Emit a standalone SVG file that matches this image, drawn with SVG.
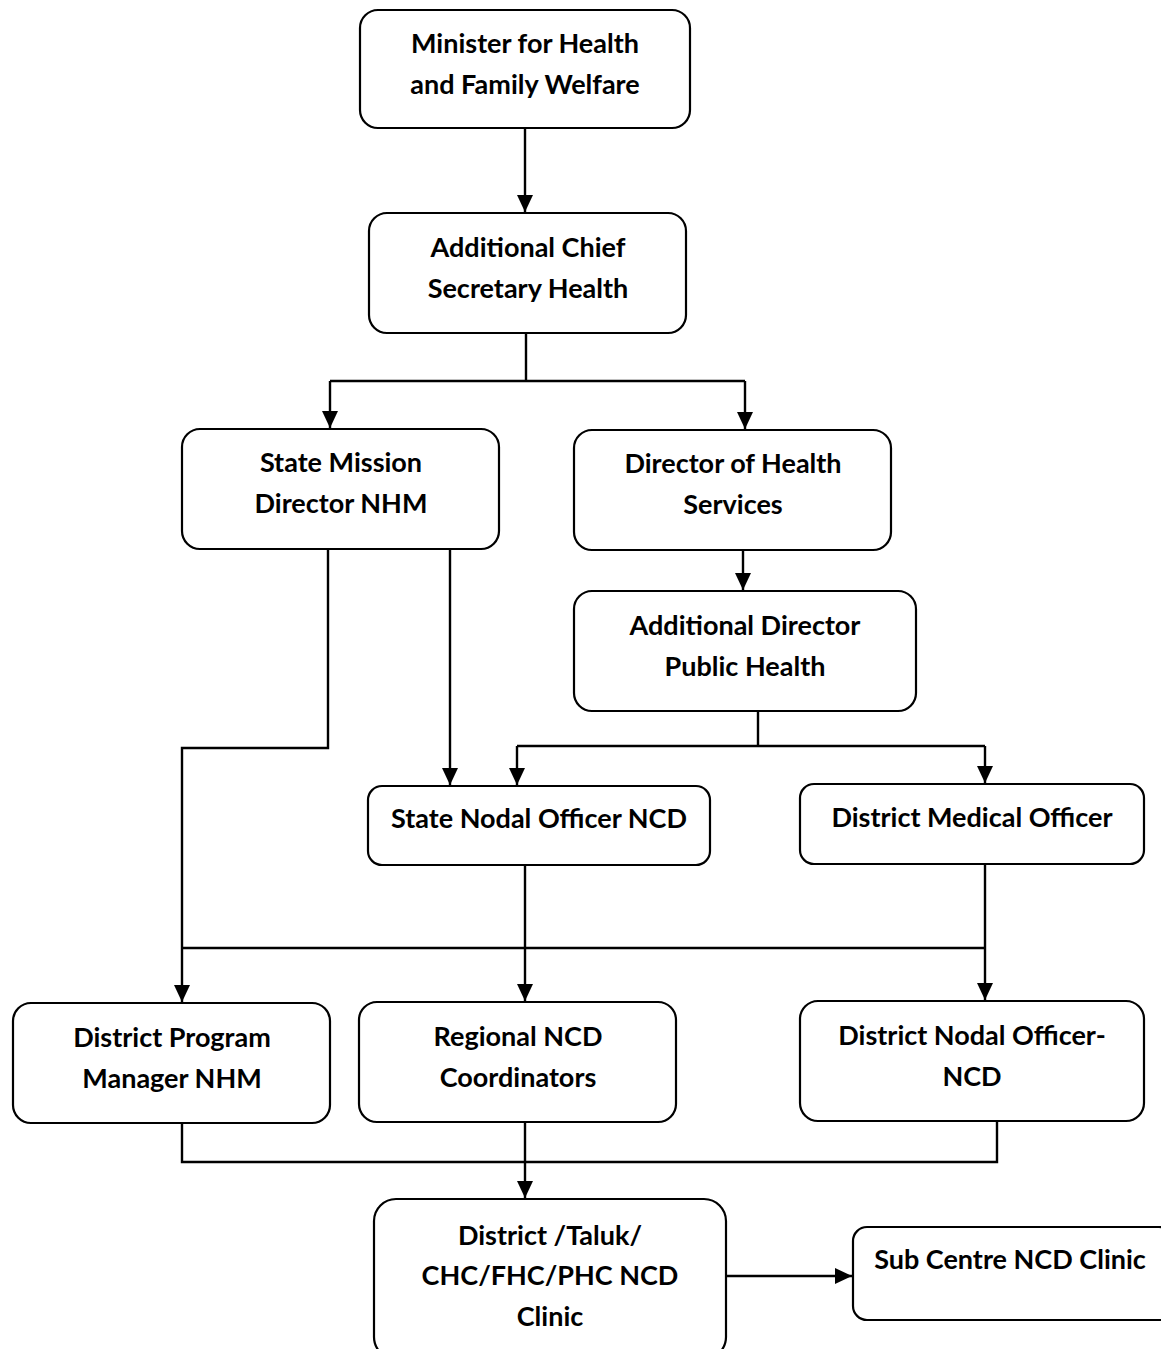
<svg xmlns="http://www.w3.org/2000/svg" width="1161" height="1349" viewBox="0 0 1161 1349">
<defs>
<marker id="arr" markerUnits="userSpaceOnUse" markerWidth="18" markerHeight="18" refX="17" refY="8" orient="auto">
<path d="M0,0 L17,8 L0,16 Z" fill="#000"/>
</marker>
<style>
.box{fill:#fff;stroke:#000;stroke-width:2.2}
.t{font-family:Lato,"Open Sans","Liberation Sans",sans-serif;font-size:27px;font-weight:bold;fill:#000;text-anchor:middle}
.c{fill:none;stroke:#000;stroke-width:2.4}
</style>
</defs>
<rect width="1161" height="1349" fill="#fff"/>
<g id="connectors">
<path class="c" d="M525,128 V212" marker-end="url(#arr)"/>
<path class="c" d="M526,333 V381 M330,381 H745"/>
<path class="c" d="M330,381 V428" marker-end="url(#arr)"/>
<path class="c" d="M745,381 V429" marker-end="url(#arr)"/>
<path class="c" d="M328,549 V748 H182 V1002" marker-end="url(#arr)"/>
<path class="c" d="M450,549 V785" marker-end="url(#arr)"/>
<path class="c" d="M743,550 V590" marker-end="url(#arr)"/>
<path class="c" d="M758,711 V746 M517,746 H985"/>
<path class="c" d="M517,746 V785" marker-end="url(#arr)"/>
<path class="c" d="M985,746 V783" marker-end="url(#arr)"/>
<path class="c" d="M525,865 V1001" marker-end="url(#arr)"/>
<path class="c" d="M182,948 H985"/>
<path class="c" d="M985,864 V1000" marker-end="url(#arr)"/>
<path class="c" d="M182,1123 V1162 H997 V1121"/>
<path class="c" d="M525,1122 V1198" marker-end="url(#arr)"/>
<path class="c" d="M726,1276 H852" marker-end="url(#arr)"/>
</g>
<g id="n1"><rect class="box" x="360" y="10" width="330" height="118" rx="18"/>
<text class="t" x="525" y="53">Minister for Health</text><text class="t" x="525" y="94">and Family Welfare</text></g>
<g id="n2"><rect class="box" x="369" y="213" width="317" height="120" rx="18"/>
<text class="t" x="528" y="257">Additional Chief</text><text class="t" x="528" y="298">Secretary Health</text></g>
<g id="n3"><rect class="box" x="182" y="429" width="317" height="120" rx="18"/>
<text class="t" x="341" y="472">State Mission</text><text class="t" x="341" y="513">Director NHM</text></g>
<g id="n4"><rect class="box" x="574" y="430" width="317" height="120" rx="18"/>
<text class="t" x="733" y="473">Director of Health</text><text class="t" x="733" y="514">Services</text></g>
<g id="n5"><rect class="box" x="574" y="591" width="342" height="120" rx="18"/>
<text class="t" x="745" y="635">Additional Director</text><text class="t" x="745" y="676">Public Health</text></g>
<g id="n6"><rect class="box" x="368" y="786" width="342" height="79" rx="14"/>
<text class="t" x="539" y="828">State Nodal Officer NCD</text></g>
<g id="n7"><rect class="box" x="800" y="784" width="344" height="80" rx="14"/>
<text class="t" x="972" y="827">District Medical Officer</text></g>
<g id="n8"><rect class="box" x="13" y="1003" width="317" height="120" rx="18"/>
<text class="t" x="172" y="1047">District Program</text><text class="t" x="172" y="1088">Manager NHM</text></g>
<g id="n9"><rect class="box" x="359" y="1002" width="317" height="120" rx="18"/>
<text class="t" x="518" y="1046">Regional NCD</text><text class="t" x="518" y="1087">Coordinators</text></g>
<g id="n10"><rect class="box" x="800" y="1001" width="344" height="120" rx="18"/>
<text class="t" x="972" y="1045">District Nodal Officer-</text><text class="t" x="972" y="1086">NCD</text></g>
<g id="n11"><rect class="box" x="374" y="1199" width="352" height="160" rx="22"/>
<text class="t" x="550" y="1245">District /Taluk/</text><text class="t" x="550" y="1285">CHC/FHC/PHC NCD</text><text class="t" x="550" y="1326">Clinic</text></g>
<g id="n12"><rect class="box" x="853" y="1227" width="320" height="93" rx="14"/>
<text class="t" x="1010" y="1269">Sub Centre NCD Clinic</text></g>
</svg>
